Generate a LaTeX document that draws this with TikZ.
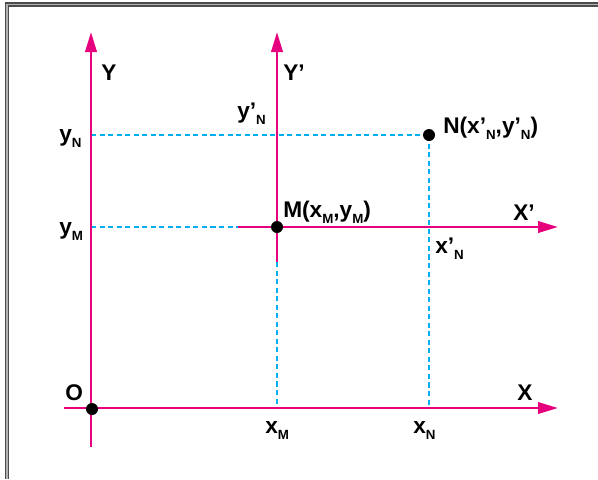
\documentclass[tikz,border=0pt]{standalone}
\usepackage{fontspec}
\setmainfont{Liberation Sans}
\usetikzlibrary{arrows.meta}
\definecolor{axiscol}{HTML}{E6007E}
\definecolor{dashcol}{HTML}{00AEEF}
\newcommand\sbx[1]{\raisebox{-5pt}{\fontsize{10}{10}\selectfont\bfseries #1}}
\begin{document}
\begin{tikzpicture}[x=0.75pt,y=-0.75pt,
  axis/.style={draw=axiscol,line width=2pt,-{Triangle[length=15pt,width=8.5pt]}},
  guide/.style={draw=dashcol,line width=1.7pt,dash pattern=on 3.8pt off 2.6pt},
  dot/.style={circle,fill=black,inner sep=0pt,minimum size=9pt},
  lbl/.style={anchor=base west,inner sep=0pt,font=\fontsize{17}{19}\selectfont\bfseries}]
\useasboundingbox (0,0) rectangle (598,479);
% frame
\draw[line width=3.2pt,black!70] (7,479) -- (7,4.5) -- (598,4.5);
\draw[line width=1.2pt,gray!60] (7,479) -- (7,4.5) -- (598,4.5);
% coordinates
\coordinate (xs) at (64,408);
\coordinate (xe) at (558,408);
\coordinate (ys) at (91,447);
\coordinate (ye) at (91,32);
\coordinate (yps) at (277,262);
\coordinate (ype) at (277,32);
\coordinate (xps) at (238,227);
\coordinate (xpe) at (558,227);
\coordinate (yNl) at (91,135);
\coordinate (yMl) at (91,227);
\coordinate (xMb) at (277,408);
\coordinate (xNb) at (429,408);
% guides
\draw[guide] (yNl) -- (429,135);
\draw[guide] (yMl) -- (xps);
\draw[guide] (429,135) -- (xNb);
\draw[guide] (yps) -- (xMb);
% axes
\draw[axis] (xs) -- (xe);
\draw[axis] (ys) -- (ye);
\draw[axis] (yps) -- (ype);
\draw[axis] (xps) -- (xpe);
% dots
\node[dot] (O) at (92,409) {};
\node[dot] (M) at (277,227) {};
\node[dot] (N) at (429,135) {};
% labels
\node[lbl] (lY) at (101,80) {Y};
\node[lbl] (lYp) at (283,80) {Y’};
\node[lbl] (lypN) at (237,118) {y’\sbx{N}};
\node[lbl] (lyN) at (59,141) {y\sbx{N}};
\node[lbl] (lyM) at (59,234) {y\sbx{M}};
\node[lbl] (lM) at (283,217) {M(x\sbx{M},y\sbx{M})};
\node[lbl] (lN) at (443,133) {N(x’\sbx{N},y’\sbx{N})};
\node[lbl] (lXp) at (513,220) {X’};
\node[lbl] (lxpN) at (435,253) {x’\sbx{N}};
\node[lbl] (lO) at (65,400) {O};
\node[lbl] (lX) at (517,400) {X};
\node[lbl] (lxM) at (265,433) {x\sbx{M}};
\node[lbl] (lxN) at (413,433) {x\sbx{N}};
\end{tikzpicture}
\end{document}
